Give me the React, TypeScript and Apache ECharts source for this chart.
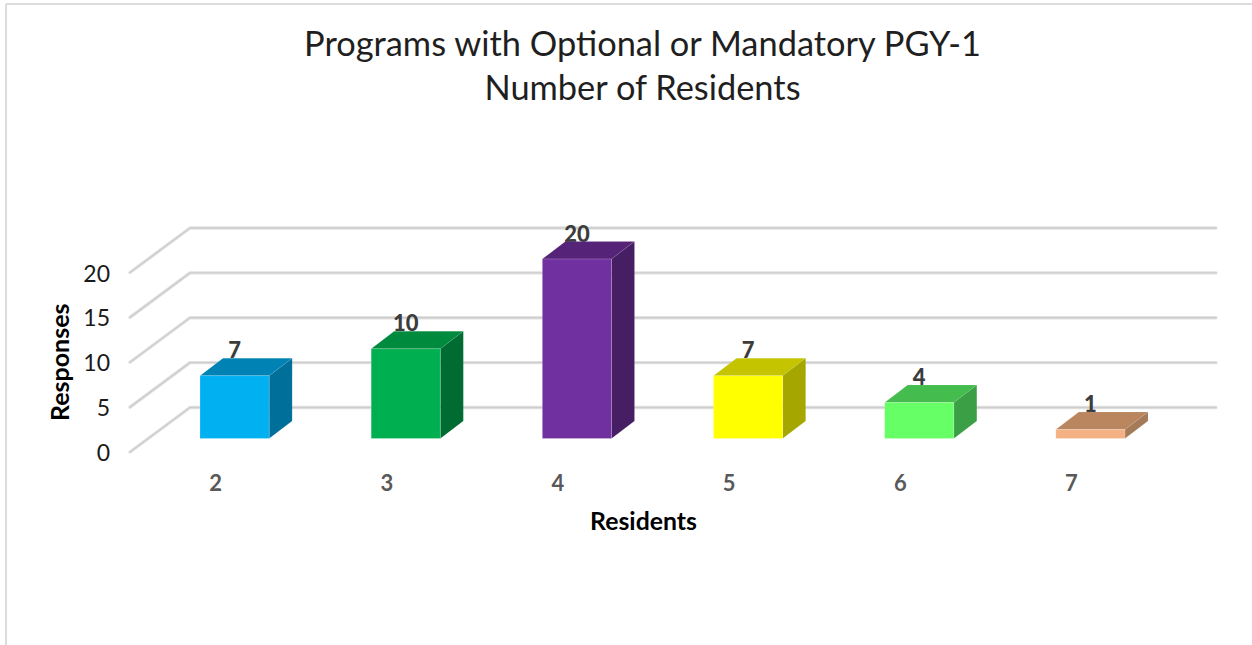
import React, { useEffect, useRef } from "react";
import * as echarts from "echarts";

const titleLines = ["Programs with Optional or Mandatory PGY-1", "Number of Residents"];
const categories = ["2", "3", "4", "5", "6", "7"];
const responses = [7, 10, 20, 7, 4, 1];
const yTicks = [0, 5, 10, 15, 20];
const frontColors = ["#00B0F0", "#00B050", "#7030A0", "#FFFF00", "#66FF66", "#F4B183"];
const topColors = ["#0083B4", "#008A3E", "#552479", "#C4C400", "#45BD4E", "#B98660"];
const sideColors = ["#006F9A", "#006C32", "#461E64", "#A6A600", "#3A9F45", "#A47A58"];

const FONT = "Lato";
const DX = 60;
const DY = -44.5;
const BAR_DX = 23;
const BAR_DY = -17.5;

function renderGrid(params: any, api: any) {
  const cs = params.coordSys;
  const y = api.coord([0, api.value(0)])[1];
  const pts = [
    [cs.x, y],
    [cs.x + DX, y + DY],
    [cs.x + cs.width + DX - 1, y + DY],
  ];
  return {
    type: "group",
    children: [
      { type: "polyline", shape: { points: pts }, style: { stroke: "#E2E2E2", lineWidth: 3.4, fill: "none", lineCap: "round", lineJoin: "round" } },
      { type: "polyline", shape: { points: pts }, style: { stroke: "#CDCDCD", lineWidth: 1.4, fill: "none", lineCap: "round", lineJoin: "round" } },
    ],
  };
}

function renderBar(params: any, api: any) {
  const i = api.value(0);
  const v = api.value(1);
  const base = api.coord([i, 0]);
  const top = api.coord([i, v]);
  const band = api.size([1, 0])[0];
  const w = band * 0.404;
  const cx = base[0] + 19;
  const l = cx - w / 2;
  const r = cx + w / 2;
  const b = base[1] - 13.5;
  const t = top[1] - 13.5;
  const edge = "rgba(255,255,255,0.15)";
  return {
    type: "group",
    children: [
      {
        type: "text",
        style: {
          text: String(v), x: cx, y: t + BAR_DY - 8.5, align: "center", verticalAlign: "middle",
          font: `900 22px ${FONT}`, fill: "#3C3C3C",
        },
      },
      {
        type: "polygon",
        shape: { points: [[l, t], [r, t], [r + BAR_DX, t + BAR_DY], [l + BAR_DX, t + BAR_DY]] },
        style: { fill: topColors[i], stroke: edge, lineWidth: 0.5 },
      },
      {
        type: "polygon",
        shape: { points: [[r, t], [r + BAR_DX, t + BAR_DY], [r + BAR_DX, b + BAR_DY], [r, b]] },
        style: { fill: sideColors[i], stroke: edge, lineWidth: 0.5 },
      },
      {
        type: "rect",
        shape: { x: l, y: t, width: w, height: b - t },
        style: { fill: frontColors[i], stroke: "rgba(255,255,255,0.25)", lineWidth: 0.8 },
      },
    ],
  };
}

export default function App() {
  const ref = useRef<HTMLDivElement>(null);
  useEffect(() => {
    const chart = echarts.init(ref.current!, undefined, { renderer: "svg" });
    chart.setOption({
      animation: false,
      backgroundColor: "#fff",
      title: {
        text: titleLines.join("\n"),
        left: 637.5,
        top: 15,
        textAlign: "center",
        textStyle: { fontFamily: FONT, fontSize: 34.4, fontWeight: "normal", color: "#1f1f1f", lineHeight: 44 },
      },
      graphic: [
        { type: "line", shape: { x1: 6, y1: 4, x2: 1252, y2: 4 }, style: { stroke: "#DCDCDC", lineWidth: 2 } },
        { type: "line", shape: { x1: 6, y1: 4, x2: 6, y2: 645 }, style: { stroke: "#DCDCDC", lineWidth: 2 } },
      ],
      grid: { left: 130, top: 272.5, width: 1027, height: 179.5 },
      xAxis: {
        type: "category",
        data: categories,
        name: "Residents",
        nameLocation: "middle",
        nameGap: 56,
        nameTextStyle: { fontFamily: FONT, fontSize: 24.8, fontWeight: "bold", color: "#000" },
        axisLine: { show: false },
        axisTick: { show: false },
        axisLabel: { margin: 19, fontFamily: FONT, fontSize: 22, fontWeight: "bold", color: "#595959" },
      },
      yAxis: {
        type: "value",
        min: 0,
        max: 20,
        interval: 5,
        name: "Responses",
        nameLocation: "middle",
        nameGap: 59,
        nameRotate: 90,
        nameTextStyle: { fontFamily: FONT, fontSize: 25, fontWeight: "bold", color: "#000" },
        axisLine: { show: false },
        axisTick: { show: false },
        splitLine: { show: false },
        axisLabel: { margin: 20, fontFamily: FONT, fontSize: 23, color: "#1a1a1a" },
      },
      series: [
        {
          type: "custom",
          coordinateSystem: "cartesian2d",
          renderItem: renderGrid,
          data: yTicks.map((t) => [t]),
          encode: { y: 0 },
          clip: false,
          silent: true,
          z: 1,
        },
        {
          type: "custom",
          coordinateSystem: "cartesian2d",
          renderItem: renderBar,
          data: responses.map((v, i) => [i, v]),
          encode: { x: 0, y: 1 },
          clip: false,
          z: 2,
        },
      ],
    });
    return () => chart.dispose();
  }, []);
  return <div ref={ref} style={{ position: "absolute", left: 0, top: 0, width: 1252, height: 645 }} />;
}
